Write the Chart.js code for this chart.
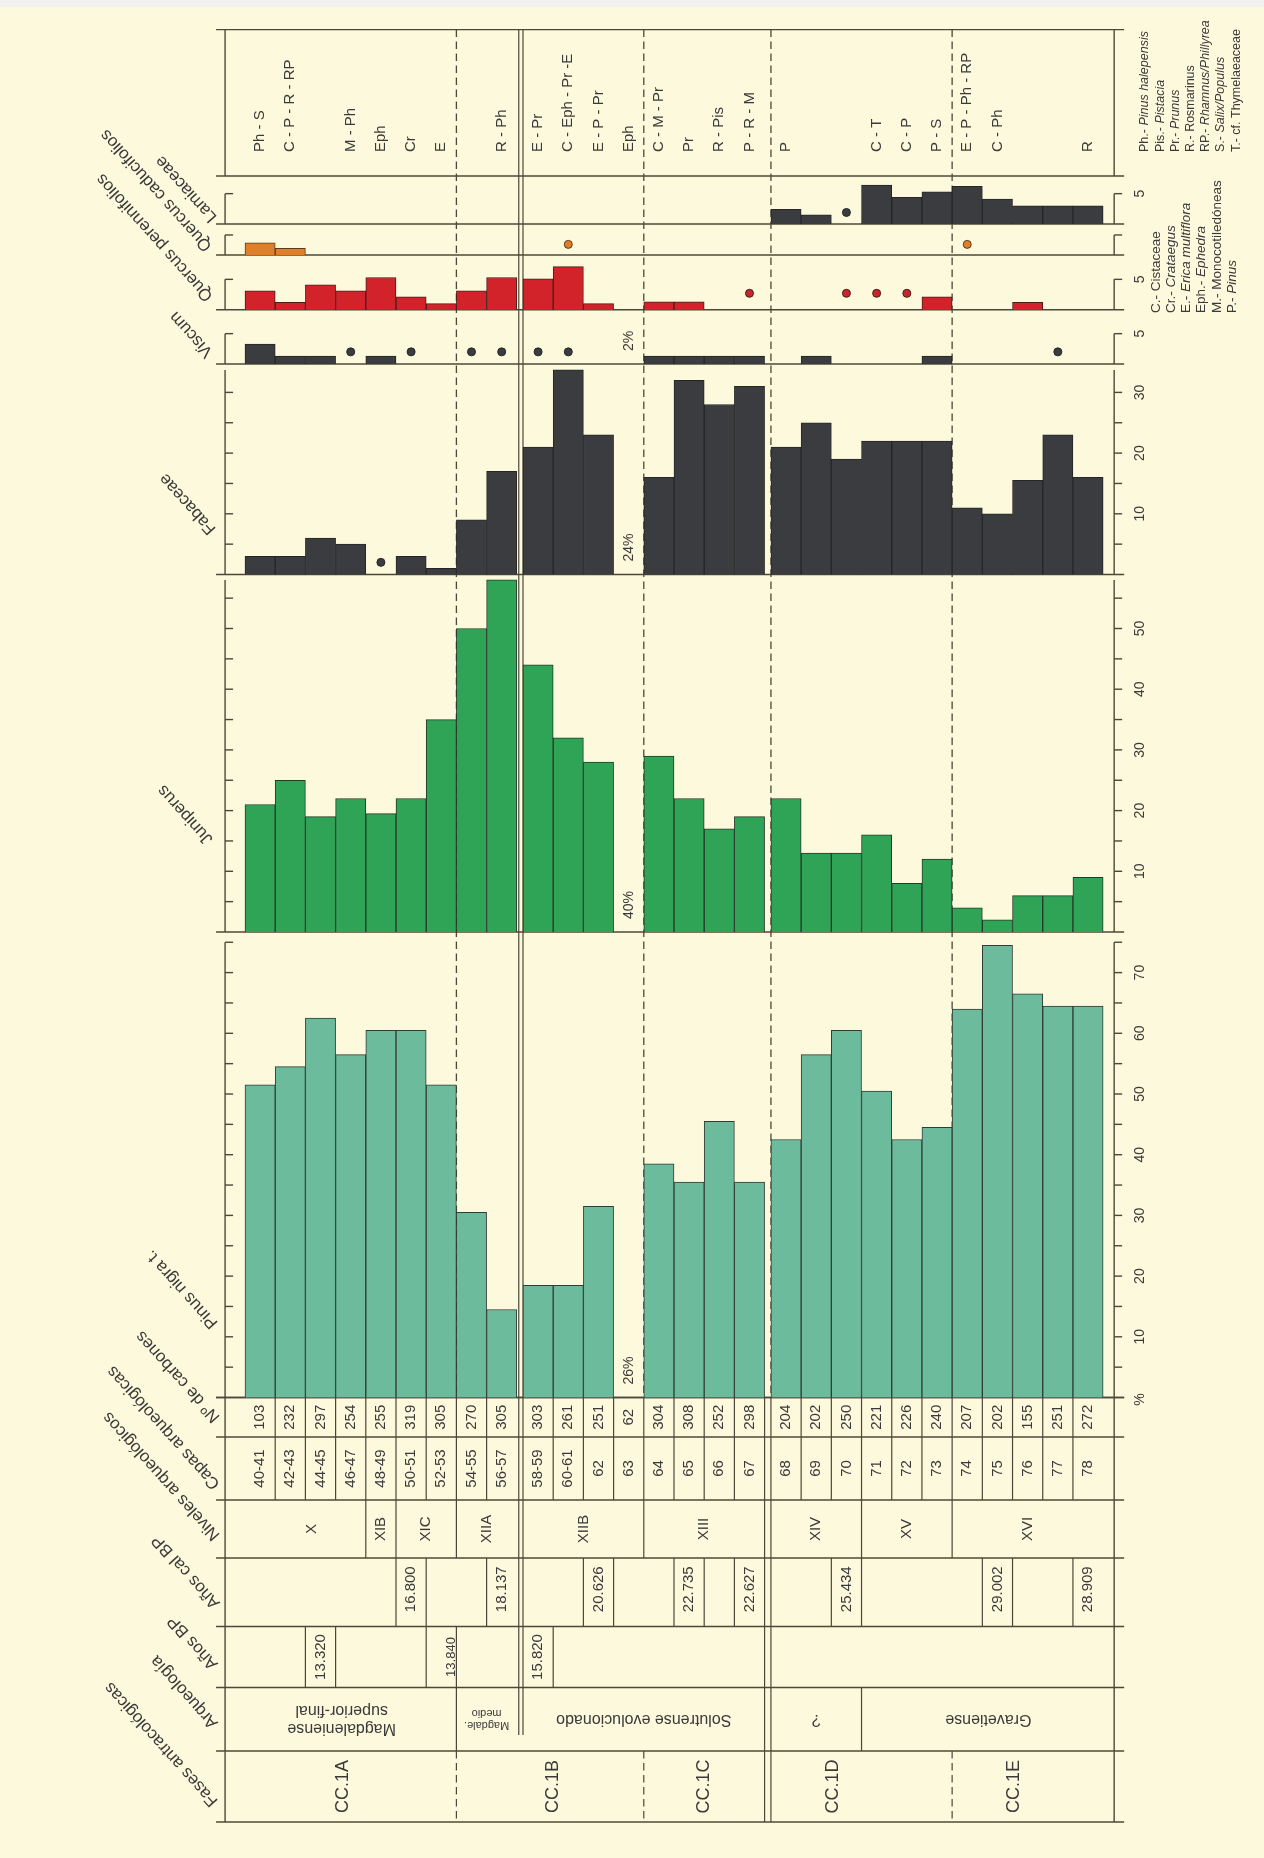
<!DOCTYPE html>
<html lang="es">
<head>
<meta charset="utf-8">
<title>Diagrama antracológico</title>
<script src="https://cdn.jsdelivr.net/npm/chart.js@4.4.1/dist/chart.umd.min.js"></script>
<style>
  html, body { margin: 0; padding: 0; background: #fdf9dc; }
  canvas { display: block; }
</style>
</head>
<body>
<canvas id="diagram" width="1264" height="1858"></canvas>
<script>
// ---- data ---------------------------------------------------------------
const capas = ['40-41','42-43','44-45','46-47','48-49','50-51','52-53','54-55','56-57',
  '58-59','60-61','62','63','64','65','66','67',
  '68','69','70','71','72','73','74','75','76','77','78'];
const carbones = [103,232,297,254,255,319,305,270,305, 303,261,251,62,304,308,252,298,
  204,202,250,221,226,240,207,202,155,251,272];
// other taxa present in each layer (abbreviations, see key)
const acompanantes = ['Ph - S','C - P - R - RP','','M - Ph','Eph','Cr','E','','R - Ph',
  'E - Pr','C - Eph - Pr -E','E - P - Pr','Eph','C - M - Pr','Pr','R - Pis','P - R - M',
  'P','','','C - T','C - P','P - S','E - P - Ph - RP','C - Ph','','','R'];

// percentages per layer, null = not plotted
const pinusNigra = [51.5,54.5,62.5,56.5,60.5,60.5,51.5,30.5,14.5, 18.5,18.5,31.5,null,38.5,35.5,45.5,35.5,
  42.5,56.5,60.5,50.5,42.5,44.5,64,74.5,66.5,64.5,64.5];
const juniperus = [21,25,19,22,19.5,22,35,50,58, 44,32,28,null,29,22,17,19,
  22,13,13,16,8,12,4,2,6,6,9];
const fabaceae = [3,3,6,5,null,3,1,9,17, 21,33.7,23,null,16,32,28,31,
  21,25,19,22,22,22,11,10,15.5,23,16];
const viscum = [3.3,1.3,1.3,null,1.3,null,null,null,null, null,null,null,null,1.3,1.3,1.3,1.3,
  null,1.3,null,null,null,1.3,null,null,null,null,null];
const quercusPer = [3.1,1.2,4.1,3.1,5.3,2.1,1,3.1,5.3, 5.1,7.1,1,null,1.3,1.3,null,null,
  null,null,null,null,null,2.1,null,null,1.2,null,null];
const quercusCad = [2,1.1,null,null,null,null,null,null,null, null,null,null,null,null,null,null,null,
  null,null,null,null,null,null,null,null,null,null,null];
const lamiaceae = [null,null,null,null,null,null,null,null,null, null,null,null,null,null,null,null,null,
  2.4,1.5,null,6.4,4.4,5.3,6.2,4.1,3,3,3];

// presence below 1 % (drawn as a dot)
const fabaceaeTrazas = ['48-49'];
const viscumTrazas = ['46-47','50-51','54-55','56-57','58-59','60-61','77'];
const quercusPerTrazas = ['67','70','71','72'];
const quercusCadTrazas = ['60-61','74'];
const lamiaceaeTrazas = ['70'];

// layer 63 has too few charcoals: only the percentage is written
const capa63 = { pinus: '26%', juniperus: '40%', fabaceae: '24%', viscum: '2%' };

const ticksPinus = [10,20,30,40,50,60,70];
const ticksJuniperus = [10,20,30,40,50];
const ticksFabaceae = [10,20,30];
const ticksMenores = [5];

const taxa = ['Lamiaceae','Quercus caducifolios','Quercus perennifolios','Viscum','Fabaceae','Juniperus','Pinus nigra t.'];
const filas = ['Nº de carbones','Capas arqueológicas','Niveles arqueológicos','Años cal BP','Años BP','Arqueología','Fases antracológicas'];

// [label, first layer index, last layer index, optional label position]
const niveles = [['X',0,3,2.2],['XIB',4,4],['XIC',5,6],['XIIA',7,8],['XIIB',9,12],['XIII',13,16],
  ['XIV',17,19],['XV',20,22],['XVI',23,27]];
const fechasCal = [['16.800',5],['18.137',8],['20.626',11],['22.735',14],['22.627',16],
  ['25.434',19],['29.002',24],['28.909',27]];
const fechasBP = [['13.320',2],['13.840',6,6.85],['15.820',9]];
const arqueologia = [['Magdaleniense\nsuperior-final',0,6,3.2],['Magdale.\nmedio',7,8],
  ['Solutrense evolucionado',9,16],['?',17,19],['Gravetiense',20,27,24.2]];
const fases = [['CC.1A',0,6,3.25],['CC.1B',7,12],['CC.1C',13,16],['CC.1D',17,22,19.05],['CC.1E',23,27,25.05]];

const claveA = [['Ph.- ','Pinus halepensis',true],['Pis.- ','Pistacia',true],['Pr.- ','Prunus',true],
  ['R.- ','Rosmarinus',false],['RP.- ','Rhamnus/Phillyrea',true],['S.- ','Salix/Populus',true],
  ['T.- ','cf. Thymelaeaceae',false]];
const claveB = [['C.- ','Cistaceae',false],['Cr.- ','Crataegus',true],['E.- ','Erica multiflora',true],
  ['Eph.- ','Ephedra',true],['M.- ','Monocotiledóneas',false],['P.- ','Pinus',true]];

// ---- layout ---------------------------------------------------------------
const W = 1264, H = 1858;
const X0 = 245, COL_W = 30.2;          // first column edge, column width
const GAP1 = 0.205, GAP2 = 0.21;       // breaks before layers 58-59 and 68
const FRAME_L = -0.66, FRAME_R = 28.78;
const UNIT = 6.07;                     // px per percent, all panels
const HEAD_TOP = 29.6, HEAD_BOT = 176;
const ROWS = [1397.5, 1437, 1500, 1558, 1626.5, 1687.5, 1751, 1822];
const SPLIT_END = 1735;

const PAPER = '#fdf9dc', LINE = '#4b4839', INK = '#3a3a3a';
const FONT = '"Liberation Sans", Arial, Helvetica, sans-serif';
const SLANT = -132 * Math.PI / 180;

const colPos = a => a + (a >= 9 ? GAP1 : 0) + (a >= 17 ? GAP2 : 0);
const mid = i => colPos(i) + 0.5;

const panels = [
  { id: 'yLam', data: lamiaceae, trazas: lamiaceaeTrazas, base: 224, top: 5, ticks: ticksMenores, small: true,
    traceAt: 1.9, fill: '#3b3c3f', edge: '#262626', dot: '#3b3c3f', name: 0, lx: 214, ly: 220 },
  { id: 'yQcad', data: quercusCad, trazas: quercusCadTrazas, base: 255, top: 3.3, ticks: [], small: true,
    traceAt: 1.75, fill: '#e07f29', edge: '#5c3a1a', dot: '#e07f29', name: 1, lx: 209, ly: 249 },
  { id: 'yQper', data: quercusPer, trazas: quercusPerTrazas, base: 309.7, top: 5, ticks: ticksMenores, small: true,
    traceAt: 2.7, fill: '#d2232b', edge: '#4a1c1c', dot: '#c8262c', name: 2, lx: 210, ly: 299 },
  { id: 'yVisc', data: viscum, trazas: viscumTrazas, base: 364, top: 5, ticks: ticksMenores, small: true,
    traceAt: 2, fill: '#3b3c3f', edge: '#262626', dot: '#3b3c3f', name: 3, lx: 210, ly: 355, pct: capa63.viscum },
  { id: 'yFab', data: fabaceae, trazas: fabaceaeTrazas, base: 574.5, top: 33.7, ticks: ticksFabaceae,
    traceAt: 2, fill: '#3b3c3f', edge: '#262626', dot: '#3b3c3f', name: 4, lx: 213, ly: 532, pct: capa63.fabaceae },
  { id: 'yJun', data: juniperus, trazas: [], base: 932, top: 58, ticks: ticksJuniperus,
    fill: '#2fa356', edge: '#243a2a', name: 5, lx: 210, ly: 842, pct: capa63.juniperus },
  { id: 'yPin', data: pinusNigra, trazas: [], base: 1397.5, top: 75, ticks: ticksPinus,
    fill: '#6cbb9d', edge: '#2f3d36', name: 6, lx: 215, ly: 1326, pct: capa63.pinus },
];
const rowLabelAt = [[217,1420],[217,1487],[217,1538],[217,1606],[215,1667],[215,1726],[215,1804]];

// ---- datasets and scales ----------------------------------------------------
const datasets = [];
const scales = {
  x: { type: 'linear', display: false, min: -X0 / COL_W, max: (W - X0) / COL_W,
       ticks: { display: false }, afterBuildTicks: s => { s.ticks = []; } }
};
panels.forEach(p => {
  scales[p.id] = { type: 'linear', axis: 'y', position: 'left', display: false,
                   min: -(H - p.base) / UNIT, max: p.base / UNIT };
  datasets.push({
    type: 'bar', yAxisID: p.id,
    data: p.data.map((v, i) => v == null ? null : { x: mid(i), y: v }).filter(Boolean),
    backgroundColor: p.fill, borderColor: p.edge, borderWidth: 1,
    grouped: false, barPercentage: 1, categoryPercentage: 1
  });
  if (p.trazas.length) {
    datasets.push({
      type: 'scatter', yAxisID: p.id,
      data: p.trazas.map(c => ({ x: mid(capas.indexOf(c)), y: p.traceAt })),
      pointRadius: 4, pointBackgroundColor: p.dot, pointBorderColor: p.edge, pointBorderWidth: 1
    });
  }
});

// ---- drawing helpers --------------------------------------------------------
function seg(ctx, x1, y1, x2, y2, dash) {
  ctx.save();
  if (dash) ctx.setLineDash(dash);
  ctx.beginPath(); ctx.moveTo(x1, y1); ctx.lineTo(x2, y2); ctx.stroke();
  ctx.restore();
}
function vText(ctx, s, x, y, size, align, style) {
  ctx.save();
  ctx.translate(x, y); ctx.rotate(-Math.PI / 2);
  ctx.font = (style || '') + ' ' + size + 'px ' + FONT;
  ctx.textAlign = align || 'center'; ctx.textBaseline = 'middle';
  ctx.fillText(s, 0, 0);
  ctx.restore();
}
function vRich(ctx, parts, x, y, size) {
  ctx.save();
  ctx.translate(x, y); ctx.rotate(-Math.PI / 2);
  ctx.textAlign = 'left'; ctx.textBaseline = 'middle';
  let off = 0;
  parts.forEach(([t, it]) => {
    ctx.font = (it ? 'italic ' : '') + size + 'px ' + FONT;
    ctx.fillText(t, off, 0);
    off += ctx.measureText(t).width;
  });
  ctx.restore();
}
function slantText(ctx, s, x, y, size) {
  ctx.save();
  ctx.translate(x, y); ctx.rotate(SLANT);
  ctx.font = size + 'px ' + FONT;
  ctx.textAlign = 'left'; ctx.textBaseline = 'middle';
  ctx.fillText(s, 0, 0);
  ctx.restore();
}
function flipText(ctx, s, x, y, size) {
  const lines = s.split('\n');
  const lh = size * 1.1;
  ctx.save();
  ctx.translate(x, y); ctx.rotate(Math.PI);
  ctx.font = size + 'px ' + FONT;
  ctx.textAlign = 'center'; ctx.textBaseline = 'middle';
  lines.forEach((l, k) => ctx.fillText(l, 0, (k - (lines.length - 1) / 2) * lh));
  ctx.restore();
}
function tickValues(p) {
  if (p.small) return [p.top];
  const out = [];
  for (let v = 5; v <= p.top + 1e-6; v += 5) out.push(v);
  return out;
}

// paper background
const paper = {
  id: 'paper',
  beforeDraw(chart) {
    const ctx = chart.ctx;
    ctx.save();
    ctx.fillStyle = PAPER; ctx.fillRect(0, 0, W, H);
    ctx.fillStyle = '#f1f1ef'; ctx.fillRect(0, 0, W, 7);
    ctx.restore();
  }
};

// axes, panel frames, separators and the table grid
const grid = {
  id: 'grid',
  beforeDatasetsDraw(chart) {
    const ctx = chart.ctx, sx = chart.scales.x;
    const X = u => sx.getPixelForValue(u);
    const xL = X(FRAME_L), xR = X(FRAME_R);
    ctx.save();
    ctx.strokeStyle = LINE; ctx.lineWidth = 1.4;

    // header box
    seg(ctx, xL - 9, HEAD_TOP, xR + 10, HEAD_TOP);
    seg(ctx, xL - 9, HEAD_BOT, xR + 10, HEAD_BOT);
    seg(ctx, xL, HEAD_TOP, xL, HEAD_BOT);
    seg(ctx, xR, HEAD_TOP, xR, HEAD_BOT);

    // panels
    panels.forEach(p => {
      const ys = chart.scales[p.id];
      const y0 = ys.getPixelForValue(0), yT = ys.getPixelForValue(p.top);
      seg(ctx, xL - 9, y0, xR + 10, y0);
      seg(ctx, xL, yT, xL, y0);
      seg(ctx, xR, yT, xR, y0);
      tickValues(p).forEach(v => {
        const y = ys.getPixelForValue(v);
        seg(ctx, xL, y, xL + 8, y);
        seg(ctx, xR, y, xR + 8, y);
      });
    });

    // phase separators through the panels
    ctx.lineWidth = 1.3;
    [7, 13, 17, 23].forEach(c => seg(ctx, X(colPos(c)), HEAD_TOP, X(colPos(c)), ROWS[0], [7.5, 4.5]));
    ctx.lineWidth = 1.2;
    seg(ctx, X(colPos(9) - 0.14), HEAD_TOP, X(colPos(9) - 0.14), SPLIT_END);
    seg(ctx, X(colPos(9)), HEAD_TOP, X(colPos(9)), SPLIT_END);

    // table
    ctx.lineWidth = 1.4;
    ROWS.forEach(y => seg(ctx, xL - 9, y, xR + 10, y));
    seg(ctx, xL, ROWS[0], xL, ROWS[7]);
    seg(ctx, xR, ROWS[0], xR, ROWS[7]);
    ctx.lineWidth = 1.2;
    seg(ctx, X(colPos(17) - 0.21), ROWS[0], X(colPos(17) - 0.21), ROWS[7]);
    seg(ctx, X(colPos(17)), ROWS[0], X(colPos(17)), ROWS[7]);

    const skip = c => c === 9 || c === 17 || c <= 0 || c >= 28;
    const cut = (c, r0, r1, dash) => { if (!skip(c)) seg(ctx, X(colPos(c)), ROWS[r0], X(colPos(c)), ROWS[r1], dash); };
    for (let c = 1; c < 28; c++) cut(c, 0, 2);
    niveles.forEach(([, a]) => cut(a, 2, 3));
    fechasCal.forEach(([, c]) => { cut(c, 3, 4); cut(c + 1, 3, 4); });
    fechasBP.forEach(([, c]) => { cut(c, 4, 5); cut(c + 1, 4, 5); });
    arqueologia.forEach(([, a]) => cut(a, 5, 6));
    fases.forEach(([, a]) => cut(a, 6, 7, [7.5, 4.5]));
    ctx.restore();
  }
};

// every piece of text
const labels = {
  id: 'labels',
  afterDraw(chart) {
    const ctx = chart.ctx, sx = chart.scales.x;
    const X = u => sx.getPixelForValue(u);
    const xR = X(FRAME_R);
    ctx.save();
    ctx.fillStyle = INK;

    acompanantes.forEach((t, i) => { if (t) vText(ctx, t, X(mid(i)), 152, 15, 'left'); });

    panels.forEach(p => {
      const ys = chart.scales[p.id];
      p.ticks.forEach(v => vText(ctx, String(v), xR + 26, ys.getPixelForValue(v), 14));
      if (p.pct) vText(ctx, p.pct, X(mid(capas.indexOf('63'))), ys.getPixelForValue(0) - 13, 14, 'left');
      slantText(ctx, taxa[p.name], p.lx, p.ly, 17);
    });
    vText(ctx, '%', xR + 26, ROWS[0] + 2, 14);

    filas.forEach((f, k) => slantText(ctx, f, rowLabelAt[k][0], rowLabelAt[k][1], 17));

    const rowMid = r => (ROWS[r] + ROWS[r + 1]) / 2;
    const spanX = (a, b, at) => X(colPos(at != null ? at : (a + b + 1) / 2));
    carbones.forEach((n, i) => vText(ctx, String(n), X(mid(i)), rowMid(0), 15));
    capas.forEach((c, i) => vText(ctx, c, X(mid(i)), rowMid(1), 15));
    niveles.forEach(([t, a, b, at]) => vText(ctx, t, spanX(a, b, at), rowMid(2), 15));
    fechasCal.forEach(([t, c]) => vText(ctx, t, X(mid(c)), rowMid(3) - 3, 15));
    // 13.840 straddles the border with the next cell and is set smaller
    fechasBP.forEach(([t, c, at]) => vText(ctx, t, at != null ? X(colPos(at)) : X(mid(c)), rowMid(4), at != null ? 13 : 15));
    arqueologia.forEach(([t, a, b, at]) => flipText(ctx, t, spanX(a, b, at), rowMid(5), t.startsWith('Magdale.') ? 11 : 16));
    fases.forEach(([t, a, b, at]) => vText(ctx, t, spanX(a, b, at), rowMid(6), 18));

    // key
    claveA.forEach(([ab, name, it], k) => vRich(ctx, [[ab, false], [name, it]], 1145 + k * 15.2, 152, 12.5));
    claveB.forEach(([ab, name, it], k) => vRich(ctx, [[ab, false], [name, it]], 1156 + k * 15.2, 313, 13.5));
    ctx.restore();
  }
};

new Chart(document.getElementById('diagram'), {
  type: 'bar',
  data: { datasets },
  options: {
    responsive: false,
    animation: false,
    devicePixelRatio: 1,
    events: [],
    layout: { autoPadding: false, padding: 0 },
    plugins: { legend: { display: false }, tooltip: { enabled: false } },
    scales
  },
  plugins: [paper, grid, labels]
});
</script>
</body>
</html>
